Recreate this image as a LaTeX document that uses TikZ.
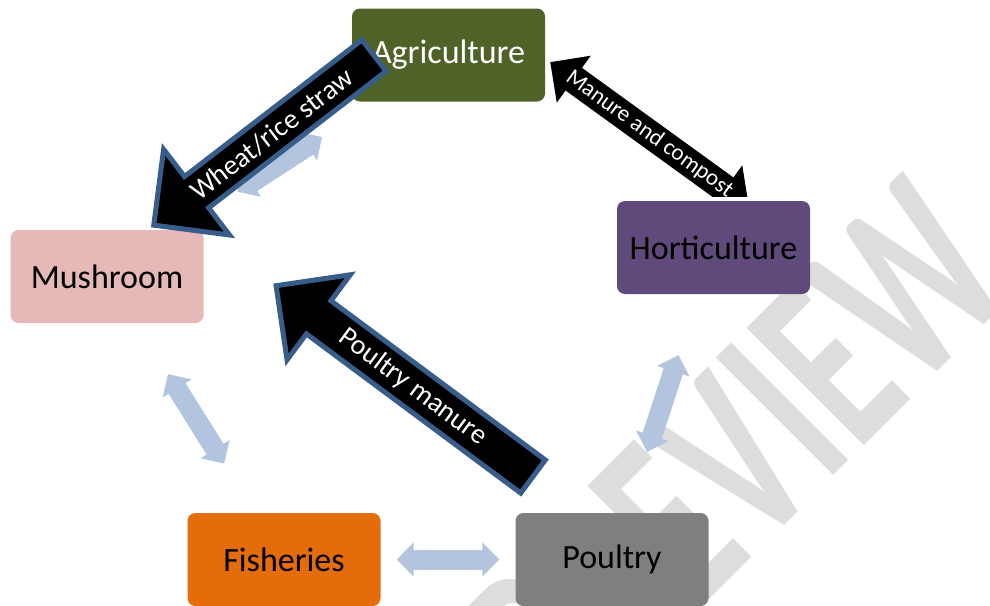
\documentclass[tikz,border=0pt]{standalone}
\usepackage{fontspec}
\setmainfont{Carlito}
\usetikzlibrary{positioning}
\usetikzlibrary{shapes.arrows}
\usetikzlibrary{arrows.meta}

\definecolor{agrigreen}{HTML}{4F6228}
\definecolor{hortpurple}{HTML}{604A7B}
\definecolor{mushpink}{HTML}{E6B9B8}
\definecolor{fishorange}{HTML}{E46C0A}
\definecolor{poultrygray}{HTML}{7F7F7F}
\definecolor{linkblue}{HTML}{B3C4DF}
\definecolor{rimblue}{HTML}{385D8A}
\definecolor{markgray}{HTML}{DDDDDD}

\tikzset{
	sector/.style = {rounded corners = 8pt, minimum width = 193pt, minimum height = 93pt, inner sep = 0pt, font = \fontsize{34}{40}\selectfont},
	softlink/.style = {linkblue, line width = 20pt, {Triangle[width = 33pt, length = 17pt]}-{Triangle[width = 33pt, length = 17pt]}},
	flowarrow/.style = {single arrow, fill = black, draw = rimblue, line width = 5pt, text = white, font = \fontsize{28}{32}\selectfont, shape border rotate = 180, single arrow tip angle = 90}
}

\begin{document}
\begin{tikzpicture}[x = 1pt, y = -1pt]
	\useasboundingbox (0, 0) rectangle (990, 605);
	% watermark behind everything
	\begin{scope}
		\clip (0, 0) rectangle (990, 605);
		\node [markgray, anchor = base west, rotate = 45, xscale = 0.65, inner sep = 0pt, font = \fontsize{256}{256}\selectfont\bfseries] (mark) at (570, 739.5) {PREVIEW};
	\end{scope}
	% the five sectors
	\node [sector, fill = agrigreen, text = white] (agri) at (448.5, 55) {Agriculture};
	\node [sector, fill = hortpurple] (hort) at (713.5, 247.5) {Horticulture};
	\node [sector, fill = mushpink] (mush) at (107, 276.5) {Mushroom};
	\node [sector, fill = fishorange] (fish) at (284, 559.5) {Fisheries};
	\node [sector, fill = poultrygray] (poul) at (612, 559.5) {Poultry};
	% light two-way links
	\draw [softlink, shorten <= 65pt, shorten >= 70pt] (agri) -- (mush);
	\draw [softlink, shorten <= 60pt, shorten >= 58pt] (mush) -- (fish);
	\draw [softlink, shorten <= 16pt, shorten >= 16pt] (fish) -- (poul);
	\draw [softlink, shorten <= 64pt, shorten >= 64pt] (hort) -- (poul);
	% the big flows
	\node [flowarrow, minimum height = 278pt, minimum width = 108pt, single arrow head extend = 28pt, rotate = 37.6, anchor = tail] (straw) at (376, 54) {Wheat/rice straw};
	\node [flowarrow, minimum height = 320pt, minimum width = 106pt, single arrow head extend = 28pt, rotate = -36.6, anchor = tail] (pmanure) at (535, 478) {Poultry manure};
	\begin{scope}
		\clip (0, 0) rectangle (990, 196);
		\node [double arrow, fill = black, text = white, inner sep = 3pt, font = \fontsize{23}{26}\selectfont, minimum height = 245pt, minimum width = 58pt, double arrow head extend = 14pt, double arrow tip angle = 90, rotate = -35.9] (compost) at (649.5, 134) {Manure and compost};
	\end{scope}
\end{tikzpicture}
\end{document}
